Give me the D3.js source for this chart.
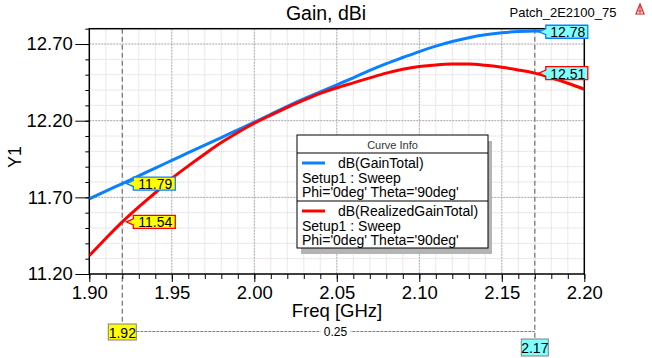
<!DOCTYPE html>
<html><head><meta charset="utf-8">
<script src="https://cdn.jsdelivr.net/npm/d3@7"></script>
<style>
html,body{margin:0;padding:0;background:#fff;}
svg{display:block;font-family:"Liberation Sans",Arial,sans-serif;}
</style></head>
<body>
<svg id="chart" width="652" height="358"></svg>
<script>
// ---------- data ----------
const freq = [1.90,1.91,1.92,1.93,1.94,1.95,1.96,1.97,1.98,1.99,2.00,2.01,2.02,2.03,2.04,2.05,2.06,2.07,2.08,2.09,2.10,2.11,2.12,2.13,2.14,2.15,2.16,2.17,2.18,2.19,2.20];
const gainTotal = [11.69,11.741,11.79,11.84,11.891,11.941,11.991,12.041,12.09,12.14,12.19,12.242,12.293,12.342,12.388,12.434,12.48,12.528,12.572,12.612,12.651,12.686,12.716,12.741,12.76,12.773,12.781,12.785,12.779,12.765,12.745];
const realizedGainTotal = [11.32,11.432,11.54,11.638,11.73,11.823,11.905,11.983,12.057,12.123,12.183,12.236,12.287,12.334,12.378,12.415,12.447,12.479,12.51,12.535,12.553,12.564,12.569,12.569,12.561,12.548,12.531,12.51,12.479,12.444,12.405];
const seriesNames = ["dB(GainTotal)","dB(RealizedGainTotal)"];
const seriesSetup = "Setup1 : Sweep";
const seriesVars = "Phi='0deg' Theta='90deg'";
const xMajorTicks = [1.90,1.95,2.00,2.05,2.10,2.15,2.20];
const yMajorTicks = [11.20,11.70,12.20,12.70];
const markerFreqs = [1.92,2.17];
const markerLabels = ["1.92","2.17"];
const markerGain = [11.79,12.78];
const markerRealized = [11.54,12.51];
const deltaLabel = "0.25";
const titleText = "Gain, dBi";
const designName = "Patch_2E2100_75";
const xTitle = "Freq [GHz]";
const yTitle = "Y1";

// ---------- layout ----------
const svg = d3.select("#chart");
const L = 89.3, R = 584.3, T = 28.7, B = 274;
const x = d3.scaleLinear().domain([1.90,2.20]).range([L,R]);
const y = d3.scaleLinear().domain([11.2,12.8]).range([B,T]);
const blue = "#0a80ff", red = "#ff0000";
const FONT = "\"Liberation Sans\",Arial,sans-serif";

// grid
const xGrid = d3.range(31).map(i => ({v: 1.90 + i*0.01, major: i%5===0}));
const yGrid = d3.range(17).map(j => ({v: 11.2 + j*0.1, major: j%5===0}));
const g = svg.append("g");
g.selectAll("line.xg").data(xGrid.filter(d=>d.v>1.9001 && d.v<2.1999)).join("line")
  .attr("x1",d=>x(d.v)).attr("x2",d=>x(d.v)).attr("y1",T).attr("y2",B)
  .attr("stroke",d=>d.major?"#a8a0a8":"#d8cfd8").attr("stroke-width",1)
  .attr("stroke-dasharray",d=>d.major?"2,1":"1,1");
g.selectAll("line.yg").data(yGrid.filter(d=>d.v>11.2001 && d.v<12.7999)).join("line")
  .attr("y1",d=>y(d.v)).attr("y2",d=>y(d.v)).attr("x1",L).attr("x2",R)
  .attr("stroke",d=>d.major?"#a8a0a8":"#d8cfd8").attr("stroke-width",1)
  .attr("stroke-dasharray",d=>d.major?"2,1":"1,1");

// marker vertical lines
const bottomBoxTop = [324, 339];
svg.selectAll("line.mk").data(markerFreqs).join("line")
  .attr("x1",d=>x(d)).attr("x2",d=>x(d)).attr("y1",T).attr("y2",(d,i)=>bottomBoxTop[i])
  .attr("stroke","#7a7a7a").attr("stroke-width",1.3).attr("stroke-dasharray","5,3");

// axes
function styleAxis(sel){ sel.select(".domain").remove(); sel.selectAll("line").attr("stroke","#000"); sel.selectAll("text").attr("font-family",FONT).attr("fill","#000"); }
svg.append("g").attr("transform",`translate(0,${B})`)
  .call(d3.axisBottom(x).tickValues(xGrid.map(d=>d.v)).tickSize(5).tickFormat("")).call(styleAxis);
svg.append("g").attr("transform",`translate(0,${B})`)
  .call(d3.axisBottom(x).tickValues(xMajorTicks).tickSize(8).tickPadding(4).tickFormat(d3.format(".2f"))).call(styleAxis)
  .selectAll("text").attr("font-size","18.5px");
svg.append("g").attr("transform",`translate(${L},0)`)
  .call(d3.axisLeft(y).tickValues(yGrid.map(d=>d.v)).tickSize(4).tickFormat("")).call(styleAxis);
svg.append("g").attr("transform",`translate(${L},0)`)
  .call(d3.axisLeft(y).tickValues(yMajorTicks).tickSize(14).tickPadding(2.5).tickFormat(d3.format(".2f"))).call(styleAxis)
  .selectAll("text").attr("font-size","18.5px");

// frame
svg.append("rect").attr("x",L).attr("y",T).attr("width",R-L).attr("height",B-T)
  .attr("fill","none").attr("stroke","#000").attr("stroke-width",1.5);

// curves
const line = d3.line().curve(d3.curveMonotoneX);
svg.append("clipPath").attr("id","clip").append("rect").attr("x",L).attr("y",T-3).attr("width",R-L).attr("height",B-T+6);
const curves = svg.append("g").attr("clip-path","url(#clip)");
curves.append("path").attr("d",line(freq.map((f,i)=>[x(f),y(gainTotal[i])])))
  .attr("fill","none").attr("stroke",blue).attr("stroke-width",3);
curves.append("path").attr("d",line(freq.map((f,i)=>[x(f),y(realizedGainTotal[i])])))
  .attr("fill","none").attr("stroke",red).attr("stroke-width",3);

// callouts
function callout(f, v, fill, stroke){
  const px = x(f), py = y(v);
  const bx = px+11, bw = 42, bh = 13, top = py - bh/2;
  const pts = [[px+4,py],[bx,py-3],[bx,top],[bx+bw,top],[bx+bw,top+bh],[bx,top+bh],[bx,py+3]];
  svg.append("path").attr("d","M"+pts.map(p=>p.join(",")).join("L")+"Z")
    .attr("fill",fill).attr("stroke",stroke).attr("stroke-width",1.3);
  svg.append("text").attr("x",bx+bw/2+1).attr("y",py+0.5).attr("text-anchor","middle")
    .attr("dominant-baseline","central").attr("font-size","14px").attr("font-family",FONT)
    .attr("fill","#000").text(v.toFixed(2));
}
const fills = ["#ffff00","#80ffff"];
markerFreqs.forEach((f,i)=>{ callout(f, markerGain[i], fills[i], blue); callout(f, markerRealized[i], fills[i], red); });

// bottom marker boxes
const bw2 = [28,27], bh2 = [16,17];
markerFreqs.forEach((f,i)=>{
  const cx = x(f);
  svg.append("rect").attr("x",cx-bw2[i]/2).attr("y",bottomBoxTop[i]).attr("width",bw2[i]).attr("height",bh2[i])
    .attr("fill",fills[i]).attr("stroke","#808080").attr("stroke-width",1);
  svg.append("text").attr("x",cx).attr("y",bottomBoxTop[i]+bh2[i]/2+0.5).attr("text-anchor","middle")
    .attr("dominant-baseline","central").attr("font-size","14px").attr("font-family",FONT).text(markerLabels[i]);
});
const dy = 331.5;
const dx1 = x(markerFreqs[0]) + bw2[0]/2, dx2 = x(markerFreqs[1]);
svg.append("line").attr("x1",dx1).attr("x2",dx2).attr("y1",dy).attr("y2",dy)
  .attr("stroke","#808080").attr("stroke-width",1).attr("stroke-dasharray","3,1");
const dmid = (dx1+dx2)/2;
svg.append("rect").attr("x",dmid-15).attr("y",dy-7).attr("width",30).attr("height",14).attr("fill","#fff");
svg.append("text").attr("x",dmid).attr("y",dy+0.5).attr("text-anchor","middle").attr("dominant-baseline","central")
  .attr("font-size","12px").attr("font-family",FONT).attr("fill","#000").text(deltaLabel);

// titles
svg.append("text").attr("x",326).attr("y",19.5).attr("text-anchor","middle").attr("font-size","19.5px")
  .attr("font-family",FONT).text(titleText);
svg.append("text").attr("x",509.5).attr("y",16.6).attr("font-size","13px").attr("font-family",FONT).text(designName);
svg.append("text").attr("x",337).attr("y",317).attr("text-anchor","middle").attr("font-size","18.5px")
  .attr("font-family",FONT).text(xTitle);
svg.append("text").attr("transform","translate(21,157) rotate(-90)").attr("text-anchor","middle").attr("font-size","18px")
  .attr("font-family",FONT).text(yTitle);
// small logo
const logo = svg.append("g").attr("transform","translate(636,4)");
logo.append("path").attr("d","M4,0 L8,10 L0,10 Z").attr("fill","none").attr("stroke","#e02020").attr("stroke-width",1.2);
logo.append("path").attr("d","M4,2 L4,10 M2,7 L6,7").attr("stroke","#e02020").attr("stroke-width",1);

// legend
const lg = svg.append("g");
const lx = 297, ly = 135, lw = 191, lh = 113;
lg.append("rect").attr("x",lx+4).attr("y",ly+6).attr("width",lw).attr("height",lh).attr("fill","#b4b4b4");
lg.append("rect").attr("x",lx).attr("y",ly).attr("width",lw).attr("height",lh).attr("fill","#fff").attr("stroke","#000").attr("stroke-width",1);
lg.append("text").attr("x",lx+lw/2).attr("y",ly+14).attr("text-anchor","middle").attr("font-size","11px")
  .attr("font-family",FONT).attr("fill","#333").text("Curve Info");
lg.append("line").attr("x1",lx).attr("x2",lx+lw).attr("y1",153).attr("y2",153).attr("stroke","#000");
lg.append("line").attr("x1",lx).attr("x2",lx+lw).attr("y1",201).attr("y2",201).attr("stroke","#000");
const entryTop = [163, 211];
[blue, red].forEach((c,i)=>{
  const yy = entryTop[i];
  lg.append("line").attr("x1",302).attr("x2",325).attr("y1",yy).attr("y2",yy).attr("stroke",c).attr("stroke-width",3);
  lg.append("text").attr("x",338).attr("y",yy+4.5).attr("font-size","14px").attr("font-family",FONT).text(seriesNames[i]);
  lg.append("text").attr("x",302).attr("y",yy+20).attr("font-size","14px").attr("font-family",FONT).text(seriesSetup);
  lg.append("text").attr("x",302).attr("y",yy+34).attr("font-size","14px").attr("font-family",FONT).text(seriesVars);
});
</script>
</body></html>
